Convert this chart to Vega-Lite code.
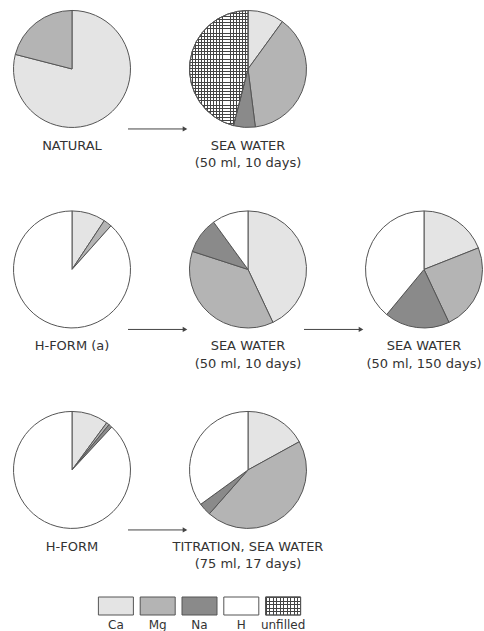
{
  "$schema": "https://vega.github.io/schema/vega-lite/v6.json",
  "padding": 0,
  "spacing": 0,
  "bounds": "flush",
  "background": "white",
  "config": {"view": {"stroke": null}},
  "datasets": {
    "pies": [
      {"pie": 1, "col": 0, "row": 0, "cat": "Ca", "k": 1, "pct": 79},
      {"pie": 1, "col": 0, "row": 0, "cat": "Mg", "k": 2, "pct": 21},
      {"pie": 2, "col": 1, "row": 0, "cat": "Ca", "k": 1, "pct": 10},
      {"pie": 2, "col": 1, "row": 0, "cat": "Mg", "k": 2, "pct": 38},
      {"pie": 2, "col": 1, "row": 0, "cat": "Na", "k": 3, "pct": 6},
      {"pie": 2, "col": 1, "row": 0, "cat": "unfilled", "k": 5, "pct": 46},
      {"pie": 3, "col": 0, "row": 1, "cat": "Ca", "k": 1, "pct": 9.3},
      {"pie": 3, "col": 0, "row": 1, "cat": "Mg", "k": 2, "pct": 2.3},
      {"pie": 3, "col": 0, "row": 1, "cat": "H", "k": 4, "pct": 88.4},
      {"pie": 4, "col": 1, "row": 1, "cat": "Ca", "k": 1, "pct": 43},
      {"pie": 4, "col": 1, "row": 1, "cat": "Mg", "k": 2, "pct": 37},
      {"pie": 4, "col": 1, "row": 1, "cat": "Na", "k": 3, "pct": 10},
      {"pie": 4, "col": 1, "row": 1, "cat": "H", "k": 4, "pct": 10},
      {"pie": 5, "col": 2, "row": 1, "cat": "Ca", "k": 1, "pct": 19},
      {"pie": 5, "col": 2, "row": 1, "cat": "Mg", "k": 2, "pct": 24},
      {"pie": 5, "col": 2, "row": 1, "cat": "Na", "k": 3, "pct": 18},
      {"pie": 5, "col": 2, "row": 1, "cat": "H", "k": 4, "pct": 39},
      {"pie": 6, "col": 0, "row": 2, "cat": "Ca", "k": 1, "pct": 10.1},
      {"pie": 6, "col": 0, "row": 2, "cat": "Mg", "k": 2, "pct": 0.8},
      {"pie": 6, "col": 0, "row": 2, "cat": "Na", "k": 3, "pct": 1},
      {"pie": 6, "col": 0, "row": 2, "cat": "H", "k": 4, "pct": 88.1},
      {"pie": 7, "col": 1, "row": 2, "cat": "Ca", "k": 1, "pct": 17},
      {"pie": 7, "col": 1, "row": 2, "cat": "Mg", "k": 2, "pct": 44.5},
      {"pie": 7, "col": 1, "row": 2, "cat": "Na", "k": 3, "pct": 3.5},
      {"pie": 7, "col": 1, "row": 2, "cat": "H", "k": 4, "pct": 35}
    ],
    "labels": [
      {"col": 0, "row": 0, "label": "NATURAL"},
      {"col": 1, "row": 0, "label": "SEA WATER\n(50 ml, 10 days)"},
      {"col": 0, "row": 1, "label": "H-FORM (a)"},
      {"col": 1, "row": 1, "label": "SEA WATER\n(50 ml, 10 days)"},
      {"col": 2, "row": 1, "label": "SEA WATER\n(50 ml, 150 days)"},
      {"col": 0, "row": 2, "label": "H-FORM"},
      {"col": 1, "row": 2, "label": "TITRATION, SEA WATER\n(75 ml, 17 days)"}
    ],
    "arrows": [
      {"row": 0, "from": 0, "to": 1},
      {"row": 1, "from": 0, "to": 1},
      {"row": 1, "from": 1, "to": 2},
      {"row": 2, "from": 0, "to": 1}
    ],
    "legend": [
      {"cat": "Ca"}, {"cat": "Mg"}, {"cat": "Na"}, {"cat": "H"}, {"cat": "unfilled"}
    ]
  },
  "vconcat": [
    {
      "width": 484,
      "height": 578,
      "layer": [
        {
          "data": {"name": "pies"},
          "transform": [{"stack": "pct", "groupby": ["pie"], "sort": [{"field": "k", "order": "ascending"}], "as": ["v0", "v1"]}],
          "mark": {"type": "arc", "radius": 58.5, "stroke": "#555", "strokeWidth": 1},
          "encoding": {
            "x": {"field": "col", "type": "quantitative", "scale": {"domain": [-0.4091, 2.3409], "zero": false, "nice": false}, "axis": null},
            "y": {"field": "row", "type": "quantitative", "scale": {"domain": [-0.344, 2.539], "reverse": true, "zero": false, "nice": false}, "axis": null},
            "theta": {"field": "v0", "type": "quantitative", "scale": {"domain": [0, 100]}},
            "theta2": {"field": "v1"},
            "color": {"field": "cat", "type": "nominal", "scale": {"domain": ["Ca", "Mg", "Na", "H", "unfilled"], "range": ["#e4e4e4", "#b4b4b4", "#8a8a8a", "#ffffff", "#ffffff"]}, "legend": null}
          }
        },
        {
          "data": {"name": "pies"},
          "transform": [{"stack": "pct", "groupby": ["pie"], "sort": [{"field": "k", "order": "ascending"}], "as": ["v0", "v1"]}, {"filter": "datum.cat === 'unfilled'"}],
          "mark": {"type": "arc", "radius": 58.5, "strokeWidth": 0, "fill": {"gradient": "linear", "x1": 0, "y1": 0, "x2": 0, "y2": 1, "stops": [
            {"offset": 0, "color": "#444"}, {"offset": 0.0075, "color": "#444"}, {"offset": 0.0075, "color": "transparent"}, {"offset": 0.025, "color": "transparent"},
            {"offset": 0.025, "color": "#444"}, {"offset": 0.0325, "color": "#444"}, {"offset": 0.0325, "color": "transparent"}, {"offset": 0.05, "color": "transparent"},
            {"offset": 0.05, "color": "#444"}, {"offset": 0.0575, "color": "#444"}, {"offset": 0.0575, "color": "transparent"}, {"offset": 0.075, "color": "transparent"},
            {"offset": 0.075, "color": "#444"}, {"offset": 0.0825, "color": "#444"}, {"offset": 0.0825, "color": "transparent"}, {"offset": 0.1, "color": "transparent"},
            {"offset": 0.1, "color": "#444"}, {"offset": 0.1075, "color": "#444"}, {"offset": 0.1075, "color": "transparent"}, {"offset": 0.125, "color": "transparent"},
            {"offset": 0.125, "color": "#444"}, {"offset": 0.1325, "color": "#444"}, {"offset": 0.1325, "color": "transparent"}, {"offset": 0.15, "color": "transparent"},
            {"offset": 0.15, "color": "#444"}, {"offset": 0.1575, "color": "#444"}, {"offset": 0.1575, "color": "transparent"}, {"offset": 0.175, "color": "transparent"},
            {"offset": 0.175, "color": "#444"}, {"offset": 0.1825, "color": "#444"}, {"offset": 0.1825, "color": "transparent"}, {"offset": 0.2, "color": "transparent"},
            {"offset": 0.2, "color": "#444"}, {"offset": 0.2075, "color": "#444"}, {"offset": 0.2075, "color": "transparent"}, {"offset": 0.225, "color": "transparent"},
            {"offset": 0.225, "color": "#444"}, {"offset": 0.2325, "color": "#444"}, {"offset": 0.2325, "color": "transparent"}, {"offset": 0.25, "color": "transparent"},
            {"offset": 0.25, "color": "#444"}, {"offset": 0.2575, "color": "#444"}, {"offset": 0.2575, "color": "transparent"}, {"offset": 0.275, "color": "transparent"},
            {"offset": 0.275, "color": "#444"}, {"offset": 0.2825, "color": "#444"}, {"offset": 0.2825, "color": "transparent"}, {"offset": 0.3, "color": "transparent"},
            {"offset": 0.3, "color": "#444"}, {"offset": 0.3075, "color": "#444"}, {"offset": 0.3075, "color": "transparent"}, {"offset": 0.325, "color": "transparent"},
            {"offset": 0.325, "color": "#444"}, {"offset": 0.3325, "color": "#444"}, {"offset": 0.3325, "color": "transparent"}, {"offset": 0.35, "color": "transparent"},
            {"offset": 0.35, "color": "#444"}, {"offset": 0.3575, "color": "#444"}, {"offset": 0.3575, "color": "transparent"}, {"offset": 0.375, "color": "transparent"},
            {"offset": 0.375, "color": "#444"}, {"offset": 0.3825, "color": "#444"}, {"offset": 0.3825, "color": "transparent"}, {"offset": 0.4, "color": "transparent"},
            {"offset": 0.4, "color": "#444"}, {"offset": 0.4075, "color": "#444"}, {"offset": 0.4075, "color": "transparent"}, {"offset": 0.425, "color": "transparent"},
            {"offset": 0.425, "color": "#444"}, {"offset": 0.4325, "color": "#444"}, {"offset": 0.4325, "color": "transparent"}, {"offset": 0.45, "color": "transparent"},
            {"offset": 0.45, "color": "#444"}, {"offset": 0.4575, "color": "#444"}, {"offset": 0.4575, "color": "transparent"}, {"offset": 0.475, "color": "transparent"},
            {"offset": 0.475, "color": "#444"}, {"offset": 0.4825, "color": "#444"}, {"offset": 0.4825, "color": "transparent"}, {"offset": 0.5, "color": "transparent"},
            {"offset": 0.5, "color": "#444"}, {"offset": 0.5075, "color": "#444"}, {"offset": 0.5075, "color": "transparent"}, {"offset": 0.525, "color": "transparent"},
            {"offset": 0.525, "color": "#444"}, {"offset": 0.5325, "color": "#444"}, {"offset": 0.5325, "color": "transparent"}, {"offset": 0.55, "color": "transparent"},
            {"offset": 0.55, "color": "#444"}, {"offset": 0.5575, "color": "#444"}, {"offset": 0.5575, "color": "transparent"}, {"offset": 0.575, "color": "transparent"},
            {"offset": 0.575, "color": "#444"}, {"offset": 0.5825, "color": "#444"}, {"offset": 0.5825, "color": "transparent"}, {"offset": 0.6, "color": "transparent"},
            {"offset": 0.6, "color": "#444"}, {"offset": 0.6075, "color": "#444"}, {"offset": 0.6075, "color": "transparent"}, {"offset": 0.625, "color": "transparent"},
            {"offset": 0.625, "color": "#444"}, {"offset": 0.6325, "color": "#444"}, {"offset": 0.6325, "color": "transparent"}, {"offset": 0.65, "color": "transparent"},
            {"offset": 0.65, "color": "#444"}, {"offset": 0.6575, "color": "#444"}, {"offset": 0.6575, "color": "transparent"}, {"offset": 0.675, "color": "transparent"},
            {"offset": 0.675, "color": "#444"}, {"offset": 0.6825, "color": "#444"}, {"offset": 0.6825, "color": "transparent"}, {"offset": 0.7, "color": "transparent"},
            {"offset": 0.7, "color": "#444"}, {"offset": 0.7075, "color": "#444"}, {"offset": 0.7075, "color": "transparent"}, {"offset": 0.725, "color": "transparent"},
            {"offset": 0.725, "color": "#444"}, {"offset": 0.7325, "color": "#444"}, {"offset": 0.7325, "color": "transparent"}, {"offset": 0.75, "color": "transparent"},
            {"offset": 0.75, "color": "#444"}, {"offset": 0.7575, "color": "#444"}, {"offset": 0.7575, "color": "transparent"}, {"offset": 0.775, "color": "transparent"},
            {"offset": 0.775, "color": "#444"}, {"offset": 0.7825, "color": "#444"}, {"offset": 0.7825, "color": "transparent"}, {"offset": 0.8, "color": "transparent"},
            {"offset": 0.8, "color": "#444"}, {"offset": 0.8075, "color": "#444"}, {"offset": 0.8075, "color": "transparent"}, {"offset": 0.825, "color": "transparent"},
            {"offset": 0.825, "color": "#444"}, {"offset": 0.8325, "color": "#444"}, {"offset": 0.8325, "color": "transparent"}, {"offset": 0.85, "color": "transparent"},
            {"offset": 0.85, "color": "#444"}, {"offset": 0.8575, "color": "#444"}, {"offset": 0.8575, "color": "transparent"}, {"offset": 0.875, "color": "transparent"},
            {"offset": 0.875, "color": "#444"}, {"offset": 0.8825, "color": "#444"}, {"offset": 0.8825, "color": "transparent"}, {"offset": 0.9, "color": "transparent"},
            {"offset": 0.9, "color": "#444"}, {"offset": 0.9075, "color": "#444"}, {"offset": 0.9075, "color": "transparent"}, {"offset": 0.925, "color": "transparent"},
            {"offset": 0.925, "color": "#444"}, {"offset": 0.9325, "color": "#444"}, {"offset": 0.9325, "color": "transparent"}, {"offset": 0.95, "color": "transparent"},
            {"offset": 0.95, "color": "#444"}, {"offset": 0.9575, "color": "#444"}, {"offset": 0.9575, "color": "transparent"}, {"offset": 0.975, "color": "transparent"},
            {"offset": 0.975, "color": "#444"}, {"offset": 0.9825, "color": "#444"}, {"offset": 0.9825, "color": "transparent"}, {"offset": 1, "color": "transparent"}
          ]}},
          "encoding": {
            "x": {"field": "col", "type": "quantitative"},
            "y": {"field": "row", "type": "quantitative"},
            "theta": {"field": "v0", "type": "quantitative"},
            "theta2": {"field": "v1"}
          }
        },
        {
          "data": {"name": "pies"},
          "transform": [{"stack": "pct", "groupby": ["pie"], "sort": [{"field": "k", "order": "ascending"}], "as": ["v0", "v1"]}, {"filter": "datum.cat === 'unfilled'"}],
          "mark": {"type": "arc", "radius": 58.5, "stroke": "#555", "strokeWidth": 1, "fill": {"gradient": "linear", "x1": 0, "y1": 0, "x2": 1, "y2": 0, "stops": [
            {"offset": 0, "color": "#444"}, {"offset": 0.015, "color": "#444"}, {"offset": 0.015, "color": "transparent"}, {"offset": 0.05, "color": "transparent"},
            {"offset": 0.05, "color": "#444"}, {"offset": 0.065, "color": "#444"}, {"offset": 0.065, "color": "transparent"}, {"offset": 0.1, "color": "transparent"},
            {"offset": 0.1, "color": "#444"}, {"offset": 0.115, "color": "#444"}, {"offset": 0.115, "color": "transparent"}, {"offset": 0.15, "color": "transparent"},
            {"offset": 0.15, "color": "#444"}, {"offset": 0.165, "color": "#444"}, {"offset": 0.165, "color": "transparent"}, {"offset": 0.2, "color": "transparent"},
            {"offset": 0.2, "color": "#444"}, {"offset": 0.215, "color": "#444"}, {"offset": 0.215, "color": "transparent"}, {"offset": 0.25, "color": "transparent"},
            {"offset": 0.25, "color": "#444"}, {"offset": 0.265, "color": "#444"}, {"offset": 0.265, "color": "transparent"}, {"offset": 0.3, "color": "transparent"},
            {"offset": 0.3, "color": "#444"}, {"offset": 0.315, "color": "#444"}, {"offset": 0.315, "color": "transparent"}, {"offset": 0.35, "color": "transparent"},
            {"offset": 0.35, "color": "#444"}, {"offset": 0.365, "color": "#444"}, {"offset": 0.365, "color": "transparent"}, {"offset": 0.4, "color": "transparent"},
            {"offset": 0.4, "color": "#444"}, {"offset": 0.415, "color": "#444"}, {"offset": 0.415, "color": "transparent"}, {"offset": 0.45, "color": "transparent"},
            {"offset": 0.45, "color": "#444"}, {"offset": 0.465, "color": "#444"}, {"offset": 0.465, "color": "transparent"}, {"offset": 0.5, "color": "transparent"},
            {"offset": 0.5, "color": "#444"}, {"offset": 0.515, "color": "#444"}, {"offset": 0.515, "color": "transparent"}, {"offset": 0.55, "color": "transparent"},
            {"offset": 0.55, "color": "#444"}, {"offset": 0.565, "color": "#444"}, {"offset": 0.565, "color": "transparent"}, {"offset": 0.6, "color": "transparent"},
            {"offset": 0.6, "color": "#444"}, {"offset": 0.615, "color": "#444"}, {"offset": 0.615, "color": "transparent"}, {"offset": 0.65, "color": "transparent"},
            {"offset": 0.65, "color": "#444"}, {"offset": 0.665, "color": "#444"}, {"offset": 0.665, "color": "transparent"}, {"offset": 0.7, "color": "transparent"},
            {"offset": 0.7, "color": "#444"}, {"offset": 0.715, "color": "#444"}, {"offset": 0.715, "color": "transparent"}, {"offset": 0.75, "color": "transparent"},
            {"offset": 0.75, "color": "#444"}, {"offset": 0.765, "color": "#444"}, {"offset": 0.765, "color": "transparent"}, {"offset": 0.8, "color": "transparent"},
            {"offset": 0.8, "color": "#444"}, {"offset": 0.815, "color": "#444"}, {"offset": 0.815, "color": "transparent"}, {"offset": 0.85, "color": "transparent"},
            {"offset": 0.85, "color": "#444"}, {"offset": 0.865, "color": "#444"}, {"offset": 0.865, "color": "transparent"}, {"offset": 0.9, "color": "transparent"},
            {"offset": 0.9, "color": "#444"}, {"offset": 0.915, "color": "#444"}, {"offset": 0.915, "color": "transparent"}, {"offset": 0.95, "color": "transparent"},
            {"offset": 0.95, "color": "#444"}, {"offset": 0.965, "color": "#444"}, {"offset": 0.965, "color": "transparent"}, {"offset": 1, "color": "transparent"}
          ]}},
          "encoding": {
            "x": {"field": "col", "type": "quantitative"},
            "y": {"field": "row", "type": "quantitative"},
            "theta": {"field": "v0", "type": "quantitative"},
            "theta2": {"field": "v1"}
          }
        },
        {
          "data": {"name": "labels"},
          "mark": {"type": "text", "font": "DejaVu Sans", "fontSize": 13, "color": "#333", "align": "center", "baseline": "top", "dy": 71, "lineBreak": "\n", "lineHeight": 17.5},
          "encoding": {
            "x": {"field": "col", "type": "quantitative"},
            "y": {"field": "row", "type": "quantitative"},
            "text": {"field": "label"}
          }
        },
        {
          "data": {"name": "arrows"},
          "mark": {"type": "rule", "color": "#444", "strokeWidth": 1, "xOffset": 56, "x2Offset": -62, "yOffset": 60},
          "encoding": {
            "x": {"field": "from", "type": "quantitative"},
            "x2": {"field": "to"},
            "y": {"field": "row", "type": "quantitative"}
          }
        },
        {
          "data": {"name": "arrows"},
          "mark": {"type": "point", "shape": "triangle-right", "filled": true, "opacity": 1, "size": 28, "color": "#444", "xOffset": -63, "yOffset": 60},
          "encoding": {
            "x": {"field": "to", "type": "quantitative"},
            "y": {"field": "row", "type": "quantitative"}
          }
        }
      ]
    },
    {
      "width": 484,
      "height": 53,
      "data": {"name": "legend"},
      "layer": [
        {
          "mark": {"type": "point", "shape": "M-1,-0.5143H1V0.5143H-1Z", "size": 1225, "filled": true, "opacity": 1, "stroke": "#555", "strokeWidth": 1, "yOffset": 1.5},
          "encoding": {
            "x": {"field": "cat", "type": "nominal", "scale": {"type": "point", "domain": ["Ca", "Mg", "Na", "H", "unfilled"], "range": [95, 304]}, "axis": null},
            "color": {"field": "cat", "type": "nominal", "scale": {"domain": ["Ca", "Mg", "Na", "H", "unfilled"], "range": ["#e4e4e4", "#b4b4b4", "#8a8a8a", "#ffffff", "#ffffff"]}, "legend": null}
          }
        },
        {
          "transform": [{"filter": "datum.cat === 'unfilled'"}],
          "mark": {"type": "point", "shape": "M-1,-0.5143H1V0.5143H-1Z", "size": 1225, "filled": true, "opacity": 1, "strokeWidth": 0, "yOffset": 1.5, "fill": {"gradient": "linear", "x1": 0, "y1": 0, "x2": 0, "y2": 1, "stops": [
            {"offset": 0, "color": "#444"}, {"offset": 0.06, "color": "#444"}, {"offset": 0.06, "color": "transparent"}, {"offset": 0.2, "color": "transparent"},
            {"offset": 0.2, "color": "#444"}, {"offset": 0.26, "color": "#444"}, {"offset": 0.26, "color": "transparent"}, {"offset": 0.4, "color": "transparent"},
            {"offset": 0.4, "color": "#444"}, {"offset": 0.46, "color": "#444"}, {"offset": 0.46, "color": "transparent"}, {"offset": 0.6, "color": "transparent"},
            {"offset": 0.6, "color": "#444"}, {"offset": 0.66, "color": "#444"}, {"offset": 0.66, "color": "transparent"}, {"offset": 0.8, "color": "transparent"},
            {"offset": 0.8, "color": "#444"}, {"offset": 0.86, "color": "#444"}, {"offset": 0.86, "color": "transparent"}, {"offset": 1, "color": "transparent"}
          ]}},
          "encoding": {
            "x": {"field": "cat", "type": "nominal"}
          }
        },
        {
          "transform": [{"filter": "datum.cat === 'unfilled'"}],
          "mark": {"type": "point", "shape": "M-1,-0.5143H1V0.5143H-1Z", "size": 1225, "filled": true, "opacity": 1, "stroke": "#555", "strokeWidth": 1, "yOffset": 1.5, "fill": {"gradient": "linear", "x1": 0, "y1": 0, "x2": 1, "y2": 0, "stops": [
            {"offset": 0, "color": "#444"}, {"offset": 0.03, "color": "#444"}, {"offset": 0.03, "color": "transparent"}, {"offset": 0.1, "color": "transparent"},
            {"offset": 0.1, "color": "#444"}, {"offset": 0.13, "color": "#444"}, {"offset": 0.13, "color": "transparent"}, {"offset": 0.2, "color": "transparent"},
            {"offset": 0.2, "color": "#444"}, {"offset": 0.23, "color": "#444"}, {"offset": 0.23, "color": "transparent"}, {"offset": 0.3, "color": "transparent"},
            {"offset": 0.3, "color": "#444"}, {"offset": 0.33, "color": "#444"}, {"offset": 0.33, "color": "transparent"}, {"offset": 0.4, "color": "transparent"},
            {"offset": 0.4, "color": "#444"}, {"offset": 0.43, "color": "#444"}, {"offset": 0.43, "color": "transparent"}, {"offset": 0.5, "color": "transparent"},
            {"offset": 0.5, "color": "#444"}, {"offset": 0.53, "color": "#444"}, {"offset": 0.53, "color": "transparent"}, {"offset": 0.6, "color": "transparent"},
            {"offset": 0.6, "color": "#444"}, {"offset": 0.63, "color": "#444"}, {"offset": 0.63, "color": "transparent"}, {"offset": 0.7, "color": "transparent"},
            {"offset": 0.7, "color": "#444"}, {"offset": 0.73, "color": "#444"}, {"offset": 0.73, "color": "transparent"}, {"offset": 0.8, "color": "transparent"},
            {"offset": 0.8, "color": "#444"}, {"offset": 0.83, "color": "#444"}, {"offset": 0.83, "color": "transparent"}, {"offset": 0.9, "color": "transparent"},
            {"offset": 0.9, "color": "#444"}, {"offset": 0.93, "color": "#444"}, {"offset": 0.93, "color": "transparent"}, {"offset": 1, "color": "transparent"}
          ]}},
          "encoding": {
            "x": {"field": "cat", "type": "nominal"}
          }
        },
        {
          "mark": {"type": "text", "font": "DejaVu Sans", "fontSize": 12, "color": "#333", "align": "center", "baseline": "alphabetic", "dy": 24.5},
          "encoding": {
            "x": {"field": "cat", "type": "nominal"},
            "text": {"field": "cat"}
          }
        }
      ]
    }
  ]
}
